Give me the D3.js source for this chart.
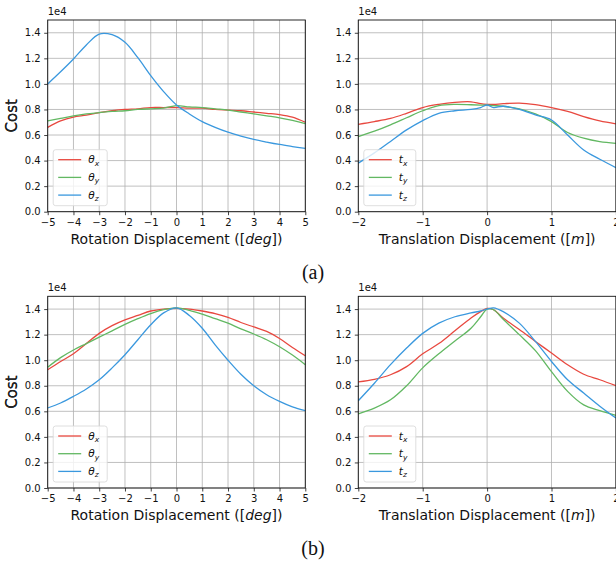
<!DOCTYPE html>
<html>
<head>
<meta charset="utf-8">
<script src="https://cdn.jsdelivr.net/npm/d3@7"></script>
<style>
    body { margin: 0; background: #fff; }
    svg { display: block; }
</style>
</head>
<body>
<div id="chart"></div>
<script>
// rotation displacement samples [deg]
var rotDeg = [-5, -4.5, -4, -3.5, -3, -2.5, -2, -1.5, -1, -0.5, 0, 0.5, 1, 1.5, 2, 2.5, 3, 3.5, 4, 4.5, 5];
// translation displacement samples [m]
var transM = [-2, -1.75, -1.5, -1.25, -1, -0.75, -0.5, -0.25, -0.1, 0, 0.1, 0.25, 0.5, 0.75, 1, 1.25, 1.5, 1.75, 2];

// (a) cost, units of 1e4
var aThetaX = [0.66, 0.71, 0.74, 0.755, 0.775, 0.79, 0.80, 0.805, 0.815, 0.815, 0.815, 0.81, 0.81, 0.80, 0.795, 0.79, 0.78, 0.77, 0.76, 0.74, 0.70];
var aThetaY = [0.71, 0.73, 0.75, 0.765, 0.775, 0.785, 0.79, 0.80, 0.805, 0.81, 0.83, 0.82, 0.815, 0.805, 0.795, 0.78, 0.765, 0.75, 0.735, 0.715, 0.69];
var aThetaZ = [1.0, 1.095, 1.195, 1.305, 1.39, 1.385, 1.325, 1.205, 1.065, 0.94, 0.835, 0.765, 0.705, 0.66, 0.622, 0.592, 0.566, 0.545, 0.526, 0.51, 0.495];
var aTx = [0.684, 0.705, 0.73, 0.77, 0.815, 0.84, 0.856, 0.86, 0.845, 0.84, 0.84, 0.845, 0.85, 0.838, 0.815, 0.785, 0.744, 0.71, 0.687];
var aTy = [0.587, 0.63, 0.68, 0.735, 0.79, 0.83, 0.84, 0.837, 0.834, 0.833, 0.83, 0.825, 0.805, 0.765, 0.705, 0.62, 0.575, 0.548, 0.535];
var aTz = [0.38, 0.46, 0.55, 0.64, 0.713, 0.77, 0.79, 0.80, 0.815, 0.835, 0.815, 0.825, 0.80, 0.757, 0.718, 0.60, 0.483, 0.41, 0.345];

// (b) cost, units of 1e4
var bThetaX = [0.925, 0.99, 1.05, 1.13, 1.21, 1.27, 1.315, 1.35, 1.385, 1.40, 1.405, 1.40, 1.385, 1.365, 1.335, 1.295, 1.26, 1.225, 1.17, 1.10, 1.035];
var bThetaY = [0.945, 1.02, 1.08, 1.13, 1.18, 1.23, 1.28, 1.325, 1.365, 1.395, 1.41, 1.39, 1.36, 1.325, 1.29, 1.245, 1.205, 1.16, 1.105, 1.04, 0.965];
var bThetaZ = [0.626, 0.665, 0.717, 0.775, 0.847, 0.94, 1.043, 1.16, 1.277, 1.37, 1.41, 1.35, 1.25, 1.12, 1.0, 0.89, 0.80, 0.73, 0.678, 0.635, 0.605];
var bTx = [0.83, 0.85, 0.886, 0.95, 1.05, 1.13, 1.23, 1.33, 1.38, 1.405, 1.395, 1.33, 1.24, 1.147, 1.056, 0.964, 0.89, 0.847, 0.80];
var bTy = [0.58, 0.625, 0.69, 0.80, 0.94, 1.05, 1.15, 1.25, 1.34, 1.40, 1.395, 1.32, 1.20, 1.075, 0.91, 0.756, 0.65, 0.605, 0.568];
var bTz = [0.683, 0.82, 0.965, 1.095, 1.21, 1.29, 1.34, 1.37, 1.385, 1.40, 1.41, 1.38, 1.29, 1.147, 0.99, 0.847, 0.743, 0.64, 0.547];

var rotTicks = [-5, -4, -3, -2, -1, 0, 1, 2, 3, 4, 5];
var transTicks = [-2, -1, 0, 1, 2];
var costTicks = [0, 0.2, 0.4, 0.6, 0.8, 1.0, 1.2, 1.4];
var seriesColors = ["#e8483f", "#62b862", "#3a98de"];

(function(d3) {

    "use strict";

    var FONT = "DejaVu Sans, sans-serif";

    /**
     * One cost panel with three curves
     * @param {Object} svg parent selection
     * @param {Object} options panel params
     * @constructor
     */
    function CostPanel(svg, options) {
        this.svg = svg;
        this.options = options;
        this.width = 257.6;
        this.height = 191.7;
        this.g = null;
        this.x = null;
        this.y = null;
    }

    CostPanel.prototype.init = function() {
        var o = this.options;
        this.g = this.svg.append("g")
            .attr("transform", "translate(" + o.left + "," + o.top + ")");

        this.x = d3.scaleLinear().domain(o.domain).range([0, this.width]);
        this.y = d3.scaleLinear().domain([0, 1.5]).range([this.height, 0]);

        this.drawGrid();
        this.drawLines();
        this.drawAxes();
        this.drawLegend();
        this.drawLabels();
    };

    CostPanel.prototype.drawGrid = function() {
        var self = this;
        var grid = this.g.append("g").attr("class", "grid")
            .attr("stroke", "#b0b0b0")
            .attr("stroke-width", 0.8);

        grid.selectAll(".gx")
            .data(this.options.ticks)
            .enter()
            .append("line")
            .attr("x1", function(d) { return self.x(d); })
            .attr("x2", function(d) { return self.x(d); })
            .attr("y1", 0)
            .attr("y2", this.height);

        grid.selectAll(".gy")
            .data(costTicks)
            .enter()
            .append("line")
            .attr("x1", 0)
            .attr("x2", this.width)
            .attr("y1", function(d) { return self.y(d); })
            .attr("y2", function(d) { return self.y(d); });
    };

    CostPanel.prototype.drawLines = function() {
        var self = this;
        var xs = this.options.xs;
        var line = d3.line()
            .x(function(d, i) { return self.x(xs[i]); })
            .y(function(d) { return self.y(d); })
            .curve(d3.curveCatmullRom.alpha(0.5));

        this.g.selectAll(".series")
            .data(this.options.series)
            .enter()
            .append("path")
            .attr("class", "series")
            .attr("fill", "none")
            .attr("stroke", function(d, i) { return seriesColors[i]; })
            .attr("stroke-width", 1.3)
            .attr("d", function(d) { return line(d); });
    };

    CostPanel.prototype.drawAxes = function() {
        var fmtX = d3.format("d");
        var fmtY = d3.format(".1f");

        var ax = this.g.append("g")
            .attr("transform", "translate(0," + this.height + ")")
            .call(d3.axisBottom(this.x)
                .tickValues(this.options.ticks)
                .tickFormat(fmtX)
                .tickSize(3.5)
                .tickPadding(3.5)
                .tickSizeOuter(0));

        var ay = this.g.append("g")
            .call(d3.axisLeft(this.y)
                .tickValues(costTicks)
                .tickFormat(fmtY)
                .tickSize(3.5)
                .tickPadding(3.5)
                .tickSizeOuter(0));

        [ax, ay].forEach(function(a) {
            a.selectAll("text")
                .attr("font-family", FONT)
                .attr("font-size", 10)
                .attr("fill", "#111");
            a.selectAll("line").attr("stroke", "#111").attr("stroke-width", 0.8);
            a.select(".domain").remove();
        });

        // spines
        this.g.append("rect")
            .attr("width", this.width)
            .attr("height", this.height)
            .attr("fill", "none")
            .attr("stroke", "#111")
            .attr("stroke-width", 0.9);

        this.g.append("text")
            .attr("x", 0)
            .attr("y", -5)
            .attr("font-family", FONT)
            .attr("font-size", 10)
            .attr("fill", "#111")
            .text("1e4");
    };

    CostPanel.prototype.drawLegend = function() {
        var o = this.options;
        var leg = this.g.append("g")
            .attr("transform", "translate(5.5," + (this.height - 62) + ")");

        leg.append("rect")
            .attr("width", o.legendWidth)
            .attr("height", 56)
            .attr("rx", 2.5)
            .attr("fill", "#fff")
            .attr("fill-opacity", 0.8)
            .attr("stroke", "#d5d5d5")
            .attr("stroke-width", 0.8);

        var rows = leg.selectAll(".row")
            .data(["x", "y", "z"])
            .enter()
            .append("g")
            .attr("class", "row")
            .attr("transform", function(d, i) { return "translate(0," + (10 + i * 17.7) + ")"; });

        rows.append("line")
            .attr("x1", 5)
            .attr("x2", 28)
            .attr("stroke", function(d, i) { return seriesColors[i]; })
            .attr("stroke-width", 1.3);

        var label = rows.append("text")
            .attr("x", 35)
            .attr("y", 3.5)
            .attr("font-family", FONT)
            .attr("font-style", "italic")
            .attr("font-size", 10.5)
            .attr("fill", "#111");
        label.append("tspan").text(o.symbol);
        label.append("tspan")
            .attr("dy", 2.5)
            .attr("font-size", 7.5)
            .text(function(d) { return d; });
    };

    CostPanel.prototype.drawLabels = function() {
        var o = this.options;
        var xl = this.g.append("text")
            .attr("x", this.width / 2)
            .attr("y", this.height + 32)
            .attr("text-anchor", "middle")
            .attr("font-family", FONT)
            .attr("font-size", 14)
            .attr("fill", "#111");
        xl.append("tspan").text(o.xLabel + " ([");
        xl.append("tspan").attr("font-style", "italic").text(o.unit);
        xl.append("tspan").text("])");

        this.g.append("text")
            .attr("transform", "translate(" + (12 - o.left) + "," + (this.height / 2) + ") rotate(-90)")
            .attr("dy", "0.35em")
            .attr("text-anchor", "middle")
            .attr("font-family", FONT)
            .attr("font-weight", "normal")
            .attr("font-size", 15)
            .attr("fill", "#222")
            .text("Cost");
    };

    var svg = d3.select("#chart")
        .append("svg")
        .attr("width", 616)
        .attr("height", 563);

    svg.append("rect").attr("width", 616).attr("height", 563).attr("fill", "#fff");

    var colLeft = [47.7, 358.3];
    var rowTop = [20, 296.3];

    var panels = [
        { left: colLeft[0], top: rowTop[0], domain: [-5, 5], ticks: rotTicks, xs: rotDeg,
          series: [aThetaX, aThetaY, aThetaZ], symbol: "\u03b8", xLabel: "Rotation Displacement", unit: "deg", legendWidth: 54 },
        { left: colLeft[1], top: rowTop[0], domain: [-2, 2], ticks: transTicks, xs: transM,
          series: [aTx, aTy, aTz], symbol: "t", xLabel: "Translation Displacement", unit: "m", legendWidth: 52 },
        { left: colLeft[0], top: rowTop[1], domain: [-5, 5], ticks: rotTicks, xs: rotDeg,
          series: [bThetaX, bThetaY, bThetaZ], symbol: "\u03b8", xLabel: "Rotation Displacement", unit: "deg", legendWidth: 54 },
        { left: colLeft[1], top: rowTop[1], domain: [-2, 2], ticks: transTicks, xs: transM,
          series: [bTx, bTy, bTz], symbol: "t", xLabel: "Translation Displacement", unit: "m", legendWidth: 52 }
    ];

    panels.forEach(function(p) {
        new CostPanel(svg, p).init();
    });

    // sub-figure captions
    svg.selectAll(".caption")
        .data(["(a)", "(b)"])
        .enter()
        .append("text")
        .attr("class", "caption")
        .attr("x", 313)
        .attr("y", function(d, i) { return i === 0 ? 279 : 555; })
        .attr("text-anchor", "middle")
        .attr("font-family", "Liberation Serif, serif")
        .attr("font-size", 20)
        .attr("fill", "#111")
        .text(function(d) { return d; });

})(d3);
</script>
</body>
</html>
